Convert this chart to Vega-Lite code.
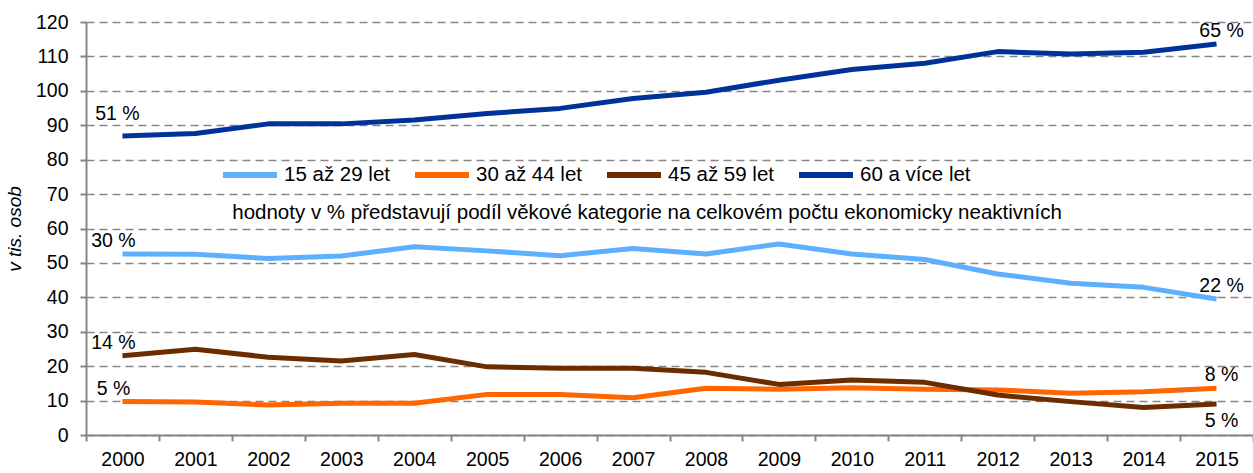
{
  "$schema": "https://vega.github.io/schema/vega-lite/v6.json",
  "width": 1167,
  "height": 413,
  "autosize": {"type": "none"},
  "padding": {"left": 86, "top": 22, "right": 0, "bottom": 38},
  "background": "white",
  "config": {
    "view": {"stroke": null},
    "font": "Liberation Sans",
    "axis": {
      "labelFont": "Liberation Sans",
      "labelFontSize": 19.5,
      "labelColor": "#000000",
      "domainColor": "#868686",
      "domainWidth": 2,
      "tickColor": "#868686",
      "tickWidth": 2,
      "tickSize": 6
    },
    "legend": {"labelFont": "Liberation Sans"}
  },
  "data": {
    "values": [
      {"year": "2000", "series": "15 až 29 let", "value": 52.6, "label": "30 %"},
      {"year": "2001", "series": "15 až 29 let", "value": 52.5, "label": null},
      {"year": "2002", "series": "15 až 29 let", "value": 51.3, "label": null},
      {"year": "2003", "series": "15 až 29 let", "value": 52.0, "label": null},
      {"year": "2004", "series": "15 až 29 let", "value": 54.7, "label": null},
      {"year": "2005", "series": "15 až 29 let", "value": 53.5, "label": null},
      {"year": "2006", "series": "15 až 29 let", "value": 52.1, "label": null},
      {"year": "2007", "series": "15 až 29 let", "value": 54.2, "label": null},
      {"year": "2008", "series": "15 až 29 let", "value": 52.6, "label": null},
      {"year": "2009", "series": "15 až 29 let", "value": 55.5, "label": null},
      {"year": "2010", "series": "15 až 29 let", "value": 52.6, "label": null},
      {"year": "2011", "series": "15 až 29 let", "value": 51.0, "label": null},
      {"year": "2012", "series": "15 až 29 let", "value": 46.8, "label": null},
      {"year": "2013", "series": "15 až 29 let", "value": 44.1, "label": null},
      {"year": "2014", "series": "15 až 29 let", "value": 42.9, "label": null},
      {"year": "2015", "series": "15 až 29 let", "value": 39.5, "label": "22 %"},
      {"year": "2000", "series": "30 až 44 let", "value": 9.7, "label": "5 %"},
      {"year": "2001", "series": "30 až 44 let", "value": 9.6, "label": null},
      {"year": "2002", "series": "30 až 44 let", "value": 8.7, "label": null},
      {"year": "2003", "series": "30 až 44 let", "value": 9.2, "label": null},
      {"year": "2004", "series": "30 až 44 let", "value": 9.2, "label": null},
      {"year": "2005", "series": "30 až 44 let", "value": 11.8, "label": null},
      {"year": "2006", "series": "30 až 44 let", "value": 11.8, "label": null},
      {"year": "2007", "series": "30 až 44 let", "value": 10.8, "label": null},
      {"year": "2008", "series": "30 až 44 let", "value": 13.6, "label": null},
      {"year": "2009", "series": "30 až 44 let", "value": 13.3, "label": null},
      {"year": "2010", "series": "30 až 44 let", "value": 13.7, "label": null},
      {"year": "2011", "series": "30 až 44 let", "value": 13.3, "label": null},
      {"year": "2012", "series": "30 až 44 let", "value": 13.1, "label": null},
      {"year": "2013", "series": "30 až 44 let", "value": 12.1, "label": null},
      {"year": "2014", "series": "30 až 44 let", "value": 12.6, "label": null},
      {"year": "2015", "series": "30 až 44 let", "value": 13.6, "label": "8 %"},
      {"year": "2000", "series": "45 až 59 let", "value": 23.0, "label": "14 %"},
      {"year": "2001", "series": "45 až 59 let", "value": 24.9, "label": null},
      {"year": "2002", "series": "45 až 59 let", "value": 22.6, "label": null},
      {"year": "2003", "series": "45 až 59 let", "value": 21.5, "label": null},
      {"year": "2004", "series": "45 až 59 let", "value": 23.4, "label": null},
      {"year": "2005", "series": "45 až 59 let", "value": 19.8, "label": null},
      {"year": "2006", "series": "45 až 59 let", "value": 19.4, "label": null},
      {"year": "2007", "series": "45 až 59 let", "value": 19.4, "label": null},
      {"year": "2008", "series": "45 až 59 let", "value": 18.2, "label": null},
      {"year": "2009", "series": "45 až 59 let", "value": 14.7, "label": null},
      {"year": "2010", "series": "45 až 59 let", "value": 16.0, "label": null},
      {"year": "2011", "series": "45 až 59 let", "value": 15.3, "label": null},
      {"year": "2012", "series": "45 až 59 let", "value": 11.6, "label": null},
      {"year": "2013", "series": "45 až 59 let", "value": 9.7, "label": null},
      {"year": "2014", "series": "45 až 59 let", "value": 8.0, "label": null},
      {"year": "2015", "series": "45 až 59 let", "value": 9.0, "label": "5 %"},
      {"year": "2000", "series": "60 a více let", "value": 86.9, "label": "51 %"},
      {"year": "2001", "series": "60 a více let", "value": 87.6, "label": null},
      {"year": "2002", "series": "60 a více let", "value": 90.4, "label": null},
      {"year": "2003", "series": "60 a více let", "value": 90.4, "label": null},
      {"year": "2004", "series": "60 a více let", "value": 91.5, "label": null},
      {"year": "2005", "series": "60 a více let", "value": 93.4, "label": null},
      {"year": "2006", "series": "60 a více let", "value": 94.9, "label": null},
      {"year": "2007", "series": "60 a více let", "value": 97.8, "label": null},
      {"year": "2008", "series": "60 a více let", "value": 99.6, "label": null},
      {"year": "2009", "series": "60 a více let", "value": 103.1, "label": null},
      {"year": "2010", "series": "60 a více let", "value": 106.2, "label": null},
      {"year": "2011", "series": "60 a více let", "value": 108.0, "label": null},
      {"year": "2012", "series": "60 a více let", "value": 111.4, "label": null},
      {"year": "2013", "series": "60 a více let", "value": 110.7, "label": null},
      {"year": "2014", "series": "60 a více let", "value": 111.2, "label": null},
      {"year": "2015", "series": "60 a více let", "value": 113.6, "label": "65 %"}
    ]
  },
  "encoding": {
    "x": {
      "field": "year",
      "type": "ordinal",
      "scale": {"type": "band", "paddingInner": 0, "paddingOuter": 0},
      "axis": {
        "title": null,
        "labelAngle": 0,
        "tickBand": "extent",
        "grid": false,
        "labelPadding": 9
      }
    },
    "y": {
      "field": "value",
      "type": "quantitative",
      "scale": {"domain": [0, 120], "nice": false},
      "axis": {
        "values": [0, 10, 20, 30, 40, 50, 60, 70, 80, 90, 100, 110, 120],
        "title": "v tis. osob",
        "titleFont": "Liberation Sans",
        "titleFontSize": 19,
        "titleFontStyle": "italic",
        "titleFontWeight": "normal",
        "titleColor": "#000000",
        "titlePadding": 11,
        "labelPadding": 12,
        "grid": true,
        "gridColor": "#868686",
        "gridDash": [8, 5],
        "gridWidth": 1.5
      }
    }
  },
  "layer": [
    {
      "mark": {"type": "line", "strokeWidth": 5, "strokeCap": "butt", "strokeJoin": "round"},
      "encoding": {
        "color": {
          "field": "series",
          "type": "nominal",
          "scale": {
            "domain": ["15 až 29 let", "30 až 44 let", "45 až 59 let", "60 a více let"],
            "range": ["#5eb0ff", "#ff6600", "#6b2d00", "#003399"]
          },
          "legend": {
            "title": null,
            "orient": "none",
            "direction": "horizontal",
            "legendX": 134,
            "legendY": 123,
            "symbolType": "stroke",
            "symbolSize": 2916,
            "symbolStrokeWidth": 6,
            "labelFontSize": 20.5,
            "labelColor": "#000000",
            "labelOffset": 4,
            "labelLimit": 300,
            "columnPadding": 13,
            "padding": 0
          }
        }
      }
    },
    {
      "transform": [{"filter": "datum.label != null && datum.year == '2000' && datum.series != '60 a více let'"}],
      "mark": {"type": "text", "baseline": "bottom", "align": "center", "dx": -9, "dy": -3, "fontSize": 19.5, "color": "#000000", "font": "Liberation Sans"},
      "encoding": {"text": {"field": "label"}}
    },
    {
      "transform": [{"filter": "datum.label != null && datum.year == '2000' && datum.series == '60 a více let'"}],
      "mark": {"type": "text", "baseline": "bottom", "align": "center", "dx": -5, "dy": -12, "fontSize": 19.5, "color": "#000000", "font": "Liberation Sans"},
      "encoding": {"text": {"field": "label"}}
    },
    {
      "transform": [{"filter": "datum.label != null && datum.year == '2015' && datum.series != '45 až 59 let'"}],
      "mark": {"type": "text", "baseline": "bottom", "align": "center", "dx": 5, "dy": -3, "fontSize": 19.5, "color": "#000000", "font": "Liberation Sans"},
      "encoding": {"text": {"field": "label"}}
    },
    {
      "transform": [{"filter": "datum.label != null && datum.year == '2015' && datum.series == '45 až 59 let'"}],
      "mark": {"type": "text", "baseline": "top", "align": "center", "dx": 5, "dy": 8, "fontSize": 19.5, "color": "#000000", "font": "Liberation Sans"},
      "encoding": {"text": {"field": "label"}}
    },
    {
      "data": {"values": [{"year": "2007", "value": 64.5, "note": "hodnoty v % představují podíl věkové kategorie na celkovém počtu ekonomicky neaktivních"}]},
      "mark": {"type": "text", "baseline": "middle", "align": "center", "dx": 14, "fontSize": 20.5, "color": "#000000", "font": "Liberation Sans"},
      "encoding": {"text": {"field": "note"}}
    }
  ]
}
